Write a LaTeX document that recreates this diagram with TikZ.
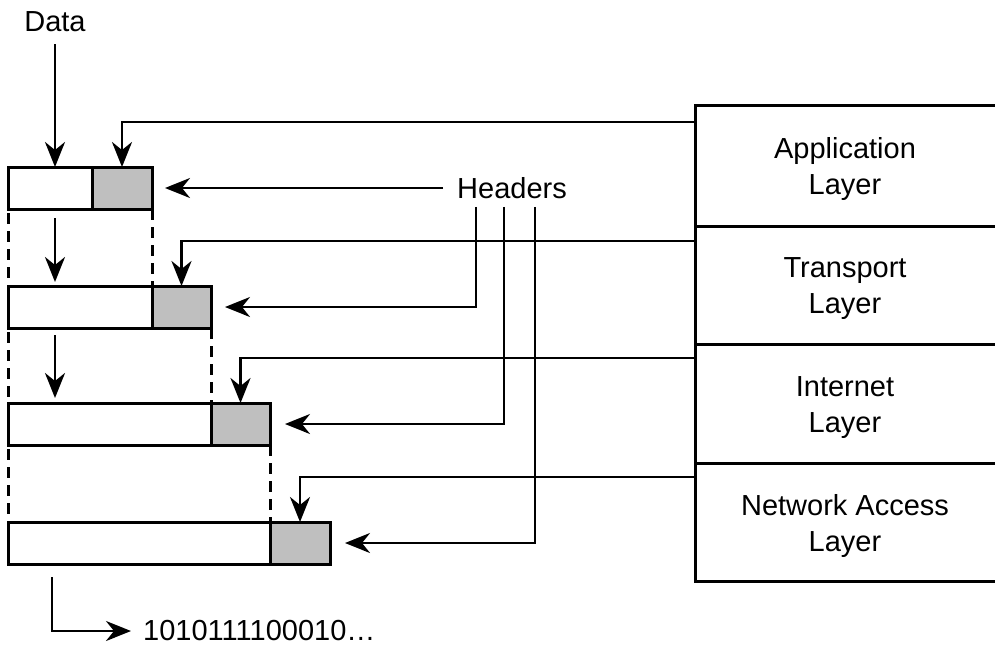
\documentclass[tikz,border=0pt]{standalone}
\usepackage{fontspec}
\setmainfont{Liberation Sans}
\usetikzlibrary{arrows.meta,calc}
\newcommand\lyrlift{\rule{0pt}{28pt}}
\begin{document}
\begin{tikzpicture}[x=1pt,y=-1pt,
  box/.style={draw, line width=3pt, minimum height=42pt, inner sep=0pt, outer sep=0pt, anchor=west},
  dpart/.style={box, fill=white},
  hpart/.style={box, fill=gray!50, minimum width=60pt},
  conn/.style={line width=2.7pt, -{Stealth[length=25pt,width=20pt,inset=8pt]}},
  dashline/.style={line width=3pt, dash pattern=on 11pt off 7pt},
  txt/.style={font=\fontsize{29}{36}\selectfont, inner sep=0pt},
  lbl/.style={txt, align=center},
  layer/.style={lbl, minimum width=300pt, anchor=north west, outer sep=0pt},
  lline/.style={line width=3pt}
]
\useasboundingbox (0,0) rectangle (995,646);

% packets
\node[dpart, minimum width=84pt]  (d1) at (8,188) {};
\node[hpart, minimum width=60pt]  (h1) at (d1.east) {};
\node[dpart, minimum width=144pt] (d2) at (8,307) {};
\node[hpart, minimum width=59pt]  (h2) at (d2.east) {};
\node[dpart, minimum width=203pt] (d3) at (8,424) {};
\node[hpart, minimum width=59pt]  (h3) at (d3.east) {};
\node[dpart, minimum width=262pt] (d4) at (8,543) {};
\node[hpart, minimum width=60pt]  (h4) at (d4.east) {};

% dashed guides
\draw[dashline, dash phase=-4pt] (d1.south west) -- (d2.north west);
\draw[dashline, dash phase=-4pt] (d2.south west) -- (d3.north west);
\draw[dashline, dash phase=-4pt] (d3.south west) -- (d4.north west);
\draw[dashline] (h1.south east) -- (h1.south east |- d2.north);
\draw[dashline] (h2.south east) -- (h2.south east |- d3.north);
\draw[dashline] (h3.south east) -- (h3.south east |- d4.north);

% layers
\node[layer, minimum height=121pt] (app)   at (695,105) {\lyrlift Application\\Layer};
\node[layer, minimum height=118pt] (trans) at (695,226) {\lyrlift Transport\\Layer};
\node[layer, minimum height=119pt] (inet)  at (695,344) {\lyrlift Internet\\Layer};
\node[layer, minimum height=118pt] (net)   at (695,463) {\lyrlift Network Access\\Layer};
\draw[lline] (app.north east) -- (app.north west) -- (net.south west) -- (net.south east);
\draw[lline] (app.south west) -- (app.south east);
\draw[lline] (trans.south west) -- (trans.south east);
\draw[lline] (inet.south west) -- (inet.south east);

% data
\node[txt, inner ysep=12pt] (data) at (55,22) {Data};
\draw[conn] (data.south) -- (data.south |- d1.north);
\draw[conn] ($(d1.south -| data.south)+(0,9)$) -- ($(d2.north -| data.south)+(0,-4)$);
\draw[conn] ($(d2.south -| data.south)+(0,7)$) -- ($(d3.north -| data.south)+(0,-5)$);

% layer connectors
\draw[conn] ($(app.north west)+(0,17)$)   -| (h1.north);
\draw[conn] ($(trans.north west)+(0,15)$) -| (h2.north);
\draw[conn] ($(inet.north west)+(0,14)$)  -| (h3.north);
\draw[conn] ($(net.north west)+(0,14)$)   -| (h4.north);

% headers
\node[txt, inner xsep=14pt, inner ysep=8pt] (hdr) at (512,188) {Headers};
\draw[conn] (hdr.west) -- ($(h1.east)+(13,0)$);
\draw[conn] ($(hdr.south)+(-36,0)$) |- ($(h2.east)+(14,0)$);
\draw[conn] ($(hdr.south)+(-8,0)$)  |- ($(h3.east)+(15,0)$);
\draw[conn] ($(hdr.south)+(23,0)$)  |- ($(h4.east)+(15,0)$);

% bit stream
\coordinate (b0) at ($(d4.south west)+(44,13)$);
\node[txt, anchor=west, inner xsep=12pt] (bits) at (131,631) {1010111100010\ldots};
\draw[conn] (b0) |- (bits.west);
\end{tikzpicture}
\end{document}
